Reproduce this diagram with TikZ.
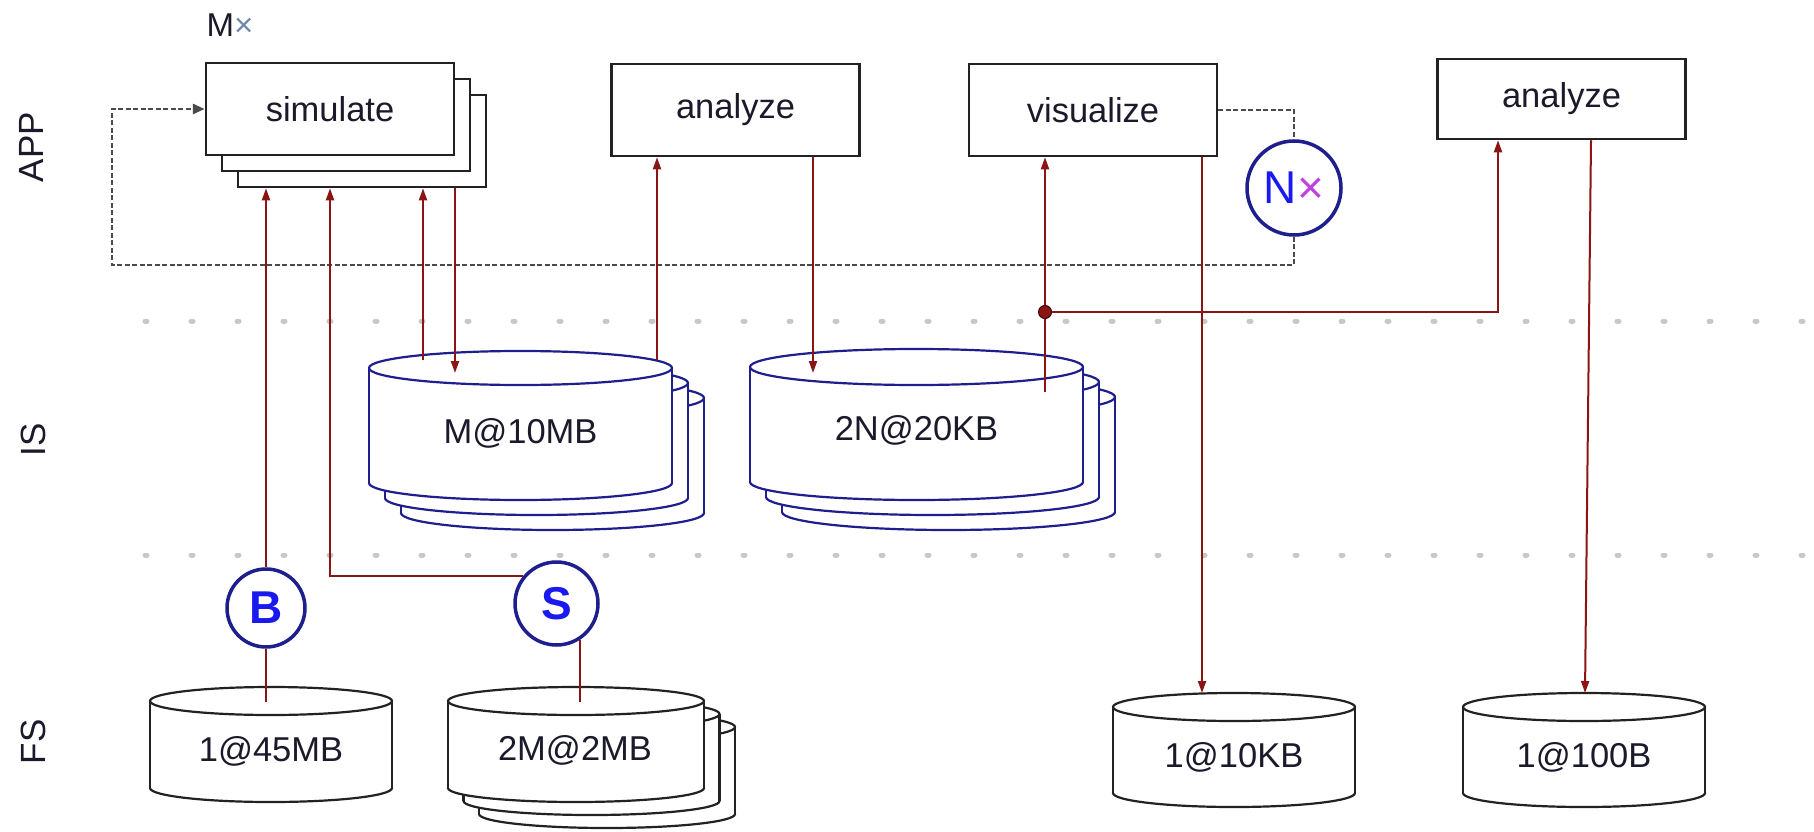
\documentclass[tikz,border=0pt]{standalone}
\usepackage{fontspec}
\setmainfont{Liberation Sans}
\usetikzlibrary{arrows.meta}
\definecolor{dred}{HTML}{8B1515}
\definecolor{navy}{HTML}{1E1E8C}
\definecolor{boxgray}{HTML}{222222}
\definecolor{txt}{HTML}{1A1A2A}
\definecolor{dotgray}{HTML}{C8C8C8}
\definecolor{loopgray}{HTML}{4A4A4A}
\definecolor{nblue}{HTML}{1A1AF0}
\definecolor{xmag}{HTML}{C040E0}
\definecolor{mxgray}{HTML}{7088A8}
\newcommand\diskbody[6]{%
  \filldraw[fill=white,draw=#6,line width=2.2pt] (#1,#4) ellipse[x radius=#3,y radius=#5];
  \fill[white] (#1-#3,#2) rectangle (#1+#3,#4);
  \draw[#6,line width=2.2pt] (#1-#3,#2) -- (#1-#3,#4) (#1+#3,#2) -- (#1+#3,#4);
  \filldraw[fill=white,draw=#6,line width=2.2pt] (#1,#2) ellipse[x radius=#3,y radius=#5];
}
\tikzset{
  lbl/.style={font=\fontsize{34.5}{40}\selectfont, text=txt},
  procbox/.style={draw=boxgray, line width=2.5pt, fill=white, minimum width=248pt,
    minimum height=92pt, inner sep=0pt, lbl},
  disktext/.style={lbl, inner sep=0pt},
  layer/.style={rotate=90, font=\fontsize{35}{40}\selectfont, text=txt},
  redarr/.style={draw=dred, line width=2pt, -{Triangle[length=12pt,width=8pt]}},
  redline/.style={draw=dred, line width=2pt},
  loopline/.style={draw=loopgray, line width=2.8pt, dash pattern=on 5pt off 2.5pt},
  sepline/.style={draw=dotgray, line width=5pt, line cap=round, dash pattern=on 2pt off 44pt},
  ringnode/.style={circle, draw=navy, line width=3.5pt, fill=white, inner sep=0pt},
}
\begin{document}
\begin{tikzpicture}[x=1pt,y=-1pt]
\useasboundingbox (0,0) rectangle (1814,832);
\fill[white] (0,0) rectangle (1814,832);

% layer separators
\draw[sepline] (145,321) -- (1803,321);
\draw[sepline] (145,555) -- (1803,555);

% layer labels
\node[layer] (lapp) at (31,147) {APP};
\node[layer] (lis) at (33,440) {IS};
\node[layer] (lfs) at (33,742) {FS};

% APP boxes
\node[lbl, font=\fontsize{33}{38}\selectfont] (mx) at (230,25) {M\textcolor{mxgray}{×}};
\node[procbox] (sim3) at (362,141) {};
\node[procbox] (sim2) at (346,125) {};
\node[procbox] (sim) at (330,109) {simulate};
\node[procbox] (an1) at (735.5,110) {analyze};
\node[procbox] (vis) at (1093,110) {visualize};
\node[procbox, minimum height=80pt] (an2) at (1561.5,99) {analyze};

% N circle and dashed loop
\node[ringnode, minimum size=94pt, font=\fontsize{46}{50}\selectfont, text=nblue] (N) at (1294,188) {N\textcolor{xmag}{×}};
\coordinate (loopBL) at (112,265);
\draw[loopline] (vis.east) -| (N.north);
\draw[loopline, -{Triangle[length=12pt,width=10pt]}] (N.south) |- (loopBL) |- (sim.west);

% IS disks
\diskbody{520.5+32}{368+30}{151.5}{483+30}{17}{navy}
\diskbody{520.5+16}{368+15}{151.5}{483+15}{17}{navy}
\diskbody{520.5}{368}{151.5}{483}{17}{navy}
\node[disktext] (m10) at (520.5,433) {M@10MB};
\diskbody{916.5+32}{367+30}{166.5}{482+30}{18}{navy}
\diskbody{916.5+16}{367+15}{166.5}{482+15}{18}{navy}
\diskbody{916.5}{367}{166.5}{482}{18}{navy}
\node[disktext] (n20) at (916.5,430) {2N@20KB};

% FS disks
\diskbody{271}{701}{121}{788}{14}{boxgray}
\node[disktext] (d45) at (271,751) {1@45MB};
\diskbody{576+31}{701+26}{128}{788+26}{14}{boxgray}
\diskbody{576+15.5}{701+13}{128}{788+13}{14}{boxgray}
\diskbody{576}{701}{128}{788}{14}{boxgray}
\node[disktext] (d2m) at (575,750) {2M@2MB};
\diskbody{1234}{707}{121}{793}{14}{boxgray}
\node[disktext] (d10k) at (1234,757) {1@10KB};
\diskbody{1584}{707}{121}{793}{14}{boxgray}
\node[disktext] (d100) at (1584,757) {1@100B};

% B and S circles
\node[ringnode, minimum size=78pt, font=\fontsize{46}{50}\selectfont\bfseries, text=nblue] (B) at (266,608) {B};
\node[ringnode, minimum size=83pt, font=\fontsize{46}{50}\selectfont\bfseries, text=nblue] (S) at (556.5,603.5) {S};

% connector end points on disk tops
\coordinate (m10a) at (423,360);
\coordinate (m10b) at (455,373);
\coordinate (m10c) at (657,360);
\coordinate (n20a) at (813,373);
\coordinate (n20b) at (1045,392);
\coordinate (d45top) at (266,702);
\coordinate (d2mtop) at (580,702);
\coordinate (d10top) at (1202,693);
\coordinate (d100top) at (1585,693);

% red connectors
\draw[redarr] (B.north) -- (B.north |- sim3.south);
\draw[redline] (B.south) -- (d45top);
\draw[redarr] (S.140) -| (sim.center |- sim3.south);
\draw[redline] (S.-57) -- (S.-57 |- d2mtop);
\draw[redarr] (m10a) -- (m10a |- sim3.south);
\draw[redarr] (m10b |- sim3.south) -- (m10b);
\draw[redarr] (m10c) -- (m10c |- an1.south);
\draw[redarr] (n20a |- an1.south) -- (n20a);
\draw[redarr] (n20b) -- (n20b |- vis.south);
\draw[redarr] (d10top |- vis.south) -- (d10top);
\draw[redarr] ([xshift=29.5pt]an2.south) -- (d100top);
\node[circle, fill=dred, draw=black!60!dred, line width=1pt, minimum size=13pt, inner sep=0pt] (jn) at (1045,312) {};
\draw[redarr] (jn) -| ([xshift=-63.5pt]an2.south);
\end{tikzpicture}
\end{document}
